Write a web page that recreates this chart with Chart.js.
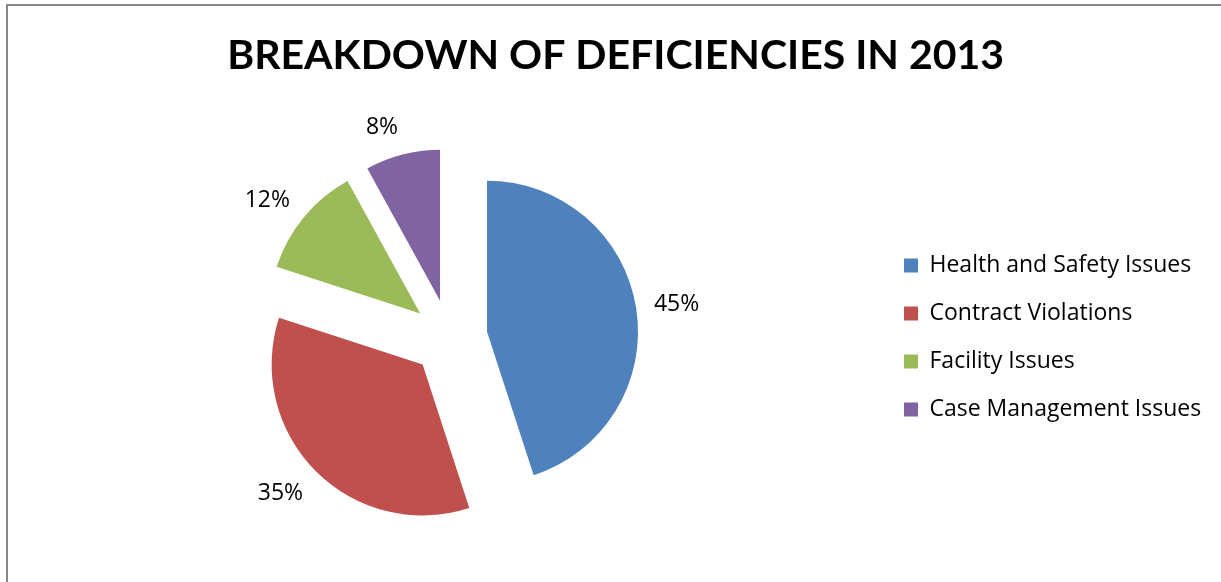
<!DOCTYPE html>
<html>
<head>
<meta charset="utf-8">
<title>Breakdown of Deficiencies in 2013</title>
<script src="https://cdn.jsdelivr.net/npm/chart.js@4.4.1/dist/chart.umd.min.js"></script>
<style>
  html, body { margin: 0; padding: 0; background: #fff; }
  #wrap { width: 1221px; height: 582px; }
</style>
</head>
<body>
<div id="wrap"><canvas id="deficiencyChart" width="1221" height="582"></canvas></div>
<script>
const categories = ['Health and Safety Issues', 'Contract Violations', 'Facility Issues', 'Case Management Issues'];
const percentages = [45, 35, 12, 8];
const sliceColors = ['#4F81BD', '#C0504D', '#9BBB59', '#8064A2'];

const PIE_RADIUS = 151;
const EXPLODE = 38; // how far each slice is pulled out, px
const TEXT_FONT = '23px "Open Sans"';

// legend should start at x=879 so the pie ends up centred at ~450
const LEGEND_LEFT = 879;
const LEGEND_PAD = 25;
const measureCtx = document.createElement('canvas').getContext('2d');
measureCtx.font = TEXT_FONT;
const widestLabel = Math.max(...categories.map(c => measureCtx.measureText(c).width));
const rightPad = Math.max(0, 1221 - LEGEND_LEFT - (LEGEND_PAD + 14 + 11.5 + widestLabel + 10));

// pull every slice out along its middle angle (excel style exploded pie).
// the built in `offset` option also shrinks/grows the arcs, so move the centres instead
const explodeSlices = {
  id: 'explodeSlices',
  afterDatasetUpdate(chart, args) {
    args.meta.data.forEach(arc => {
      const mid = (arc.startAngle + arc.endAngle) / 2;
      arc.x += Math.cos(mid) * EXPLODE;
      arc.y += Math.sin(mid) * EXPLODE;
    });
  }
};

// percentage labels just outside each slice
const sliceLabels = {
  id: 'sliceLabels',
  afterDatasetsDraw(chart) {
    const ctx = chart.ctx;
    const meta = chart.getDatasetMeta(0);
    ctx.save();
    ctx.font = TEXT_FONT;
    ctx.fillStyle = '#000';
    ctx.textAlign = 'center';
    ctx.textBaseline = 'alphabetic';
    meta.data.forEach((arc, i) => {
      const mid = (arc.startAngle + arc.endAngle) / 2;
      const ux = Math.cos(mid);
      const uy = Math.sin(mid);
      const text = percentages[i] + '%';
      const w = ctx.measureText(text).width;
      // nearest corner of the text sits a bit outside the rim
      const px = arc.x + ux * (PIE_RADIUS + 18);
      const py = arc.y + uy * (PIE_RADIUS + 18);
      const cx = px + Math.max(-1, Math.min(1, ux * 4)) * w / 2;
      const cy = py + uy * 11;
      ctx.fillText(text, cx, cy + 8);
    });
    ctx.restore();
  }
};

const chartBorder = {
  id: 'chartBorder',
  beforeDraw(chart) {
    const ctx = chart.ctx;
    ctx.save();
    ctx.strokeStyle = '#878787';
    ctx.lineWidth = 2;
    ctx.strokeRect(7, 5, chart.width + 50, chart.height + 50);
    ctx.restore();
  }
};

new Chart(document.getElementById('deficiencyChart'), {
  type: 'pie',
  data: {
    labels: categories,
    datasets: [{
      data: percentages,
      backgroundColor: sliceColors,
      borderWidth: 0,
      hoverOffset: 0
    }]
  },
  options: {
    responsive: false,
    animation: false,
    events: [],
    radius: PIE_RADIUS,
    layout: { padding: { left: 20, right: rightPad, top: 0, bottom: 27 } },
    plugins: {
      title: {
        display: true,
        text: 'BREAKDOWN OF DEFICIENCIES IN 2013',
        color: '#000',
        font: { family: 'Lato', size: 41, weight: 'bold', lineHeight: 1.2 },
        padding: { top: 31, bottom: 40 }
      },
      legend: {
        position: 'right',
        fullSize: false,
        labels: {
          boxWidth: 14,
          boxHeight: 14,
          padding: LEGEND_PAD,
          color: '#000',
          font: { family: 'Open Sans', size: 23 }
        }
      },
      tooltip: { enabled: false }
    }
  },
  plugins: [explodeSlices, sliceLabels, chartBorder]
});
</script>
</body>
</html>
